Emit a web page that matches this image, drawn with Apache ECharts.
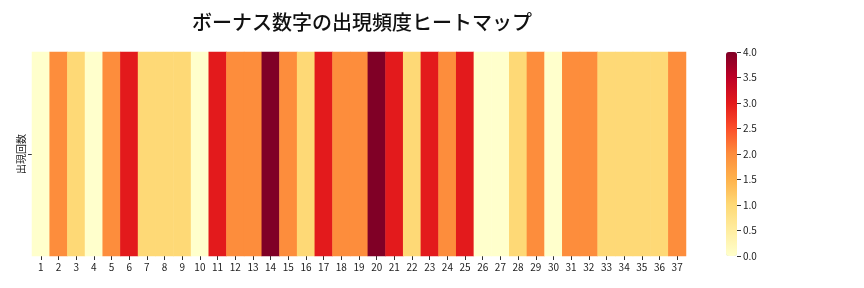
<!DOCTYPE html>
<html><head><meta charset="utf-8">
<script src="https://cdn.jsdelivr.net/npm/echarts@6/dist/echarts.min.js"></script>
<style>html,body{margin:0;padding:0;background:#fff}#c{width:864px;height:288px}</style>
</head><body><div id="c"></div>
<script>
const categories = ['1','2','3','4','5','6','7','8','9','10','11','12','13','14','15','16','17','18','19','20','21','22','23','24','25','26','27','28','29','30','31','32','33','34','35','36','37'];
const rowLabels = ['出現回数'];
const counts = [0,2,1,0,2,3,1,1,1,0,3,2,2,4,2,1,3,2,2,4,3,1,3,2,3,0,0,1,2,0,2,2,1,1,1,1,2];
const colorbarTicks = [0,0.5,1,1.5,2,2.5,3,3.5,4];
const titleText = 'ボーナス数字の出現頻度ヒートマップ';

const data = counts.map((v,i)=>[i,0,v]);
const font = '"Noto Sans CJK JP","Noto Sans",sans-serif';
const chart = echarts.init(document.getElementById('c'));
chart.setOption({
  animation:false,
  title:{text:titleText,left:357,top:7,textAlign:'center',textStyle:{fontFamily:font,fontSize:20,fontWeight:500,color:'#111'}},
  grid:[{left:32,right:178,top:52,bottom:32},{left:737,width:20,top:52,bottom:32}],
  xAxis:[
    {type:'category',data:categories,gridIndex:0,axisLine:{show:false},axisTick:{show:true,length:4,alignWithLabel:true,lineStyle:{color:'#333'}},axisLabel:{fontFamily:font,fontSize:10,color:'#222',margin:6,interval:0},splitArea:{show:false}},
    {type:'value',gridIndex:1,show:false,min:0,max:1}
  ],
  yAxis:[
    {type:'category',data:rowLabels,gridIndex:0,axisLine:{show:false},axisTick:{show:true,length:4,alignWithLabel:true,lineStyle:{color:'#333'}},axisLabel:{fontFamily:font,fontSize:10,color:'#222',rotate:90,margin:6}},
    {type:'value',gridIndex:1,position:'left',min:0,max:4,interval:0.5,axisLine:{show:false},splitLine:{show:false},axisTick:{show:true,inside:true,length:4,lineStyle:{color:'#333'}},axisLabel:{inside:true,fontFamily:font,fontSize:10,color:'#222',margin:6,formatter:v=>v.toFixed(1)}}
  ],
  visualMap:{type:'continuous',min:0,max:4,seriesIndex:0,calculable:false,orient:'vertical',left:726,top:52,padding:0,itemWidth:11,itemHeight:204,showLabel:false,
    inRange:{color:['#ffffcc','#ffeda0','#fed976','#feb24c','#fd8d3c','#fc4e2a','#e31a1c','#bd0026','#800026']}},
  series:[{type:'heatmap',xAxisIndex:0,yAxisIndex:0,data:data,itemStyle:{borderWidth:0},emphasis:{disabled:true}}]
});
</script></body></html>
